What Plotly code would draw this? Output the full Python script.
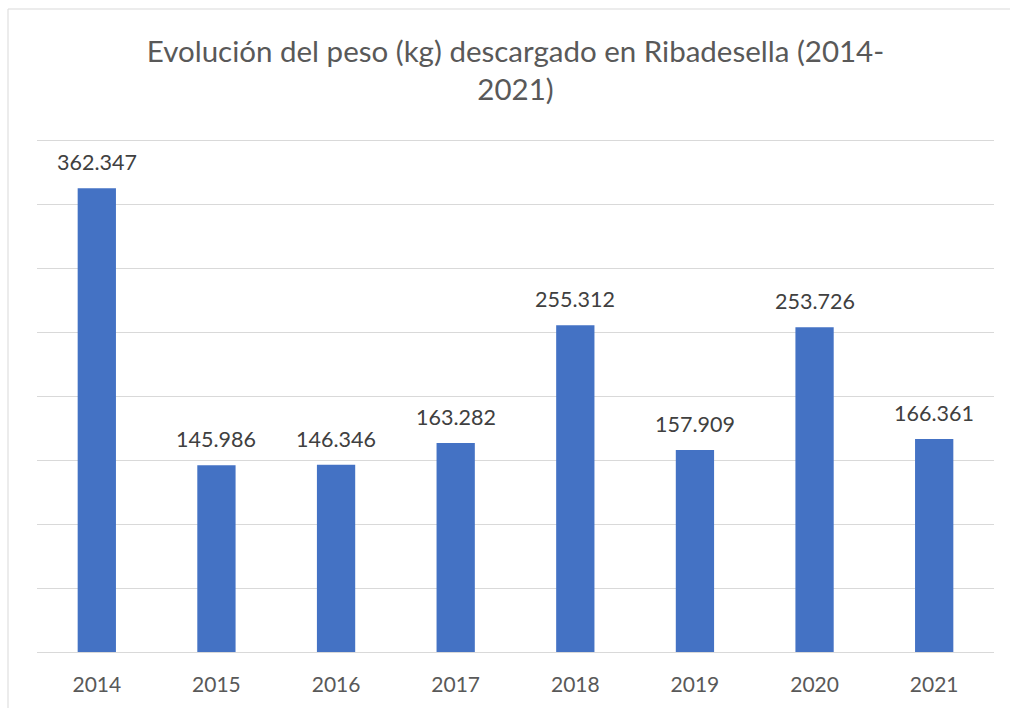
import plotly.graph_objects as go

years = ["2014", "2015", "2016", "2017", "2018", "2019", "2020", "2021"]
peso_kg = [362347, 145986, 146346, 163282, 255312, 157909, 253726, 166361]
title_text = "Evolución del peso (kg) descargado en Ribadesella (2014-<br>2021)"

FONT = "Lato, Calibri, Carlito, sans-serif"

# plot area: gridline 400000 at 140 px, baseline at 652 px; extend slightly above
TOP_M, BOT_M = 135, 56
H = 708 - TOP_M - BOT_M
Y_MAX = 400000 * H / 512

fig = go.Figure()
fig.add_trace(go.Bar(
    x=years, y=peso_kg,
    marker=dict(color="#4472C4", line=dict(width=0)),
    hoverinfo="x+y",
))

# data labels: category index positions on the category axis
for i, v in enumerate(peso_kg):
    fig.add_annotation(
        x=i, y=v, xref="x", yref="y",
        text=f"{v:,}".replace(",", "."),
        showarrow=False, yanchor="bottom", yshift=11,
        font=dict(family=FONT, size=21.5, color="#404040"),
    )

fig.add_shape(type="rect", xref="paper", yref="paper",
              x0=-29 / 957, x1=1.05, y0=-0.2, y1=1 + (TOP_M - 9) / H,
              line=dict(color="#d9d9d9", width=1), fillcolor="rgba(0,0,0,0)")

fig.update_layout(
    width=1010, height=708,
    margin=dict(l=37, r=16, t=TOP_M, b=BOT_M, autoexpand=False),
    paper_bgcolor="white", plot_bgcolor="white",
    bargap=0.68,
    showlegend=False,
    title=dict(text=title_text, x=0.5, xref="paper", xanchor="center",
               y=1 - 62 / 708, yref="container", yanchor="top",
               font=dict(family=FONT, size=29.5, color="#595959")),
    font=dict(family=FONT, color="#595959"),
    xaxis=dict(type="category", range=[-0.5, len(years) - 0.5],
               showgrid=False, showline=True, linecolor="#d9d9d9", linewidth=1,
               ticks="outside", ticklen=14, tickcolor="rgba(0,0,0,0)",
               tickfont=dict(family=FONT, size=21, color="#595959")),
    yaxis=dict(range=[0, Y_MAX], tickvals=[50000 * i for i in range(1, 9)],
               showgrid=True, gridcolor="#d9d9d9",
               gridwidth=1, showticklabels=False, zeroline=False, showline=False),
)

fig.write_html("out.html", config={"displayModeBar": False},
               post_script="document.body.style.margin='0px';document.body.style.overflow='hidden';")
